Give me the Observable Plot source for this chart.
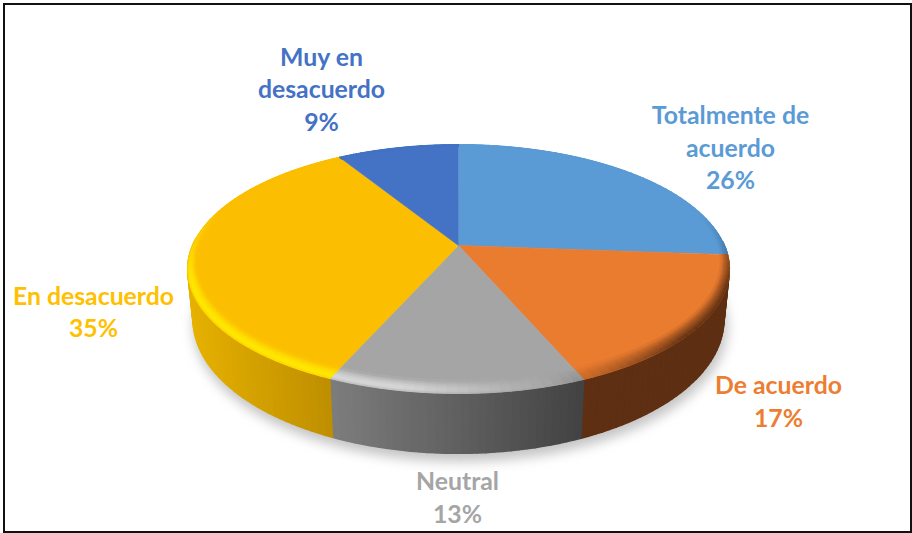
<!DOCTYPE html>
<html>
<head>
<meta charset="utf-8">
<script src="https://cdn.jsdelivr.net/npm/d3@7"></script>
<script src="https://cdn.jsdelivr.net/npm/@observablehq/plot@0.6"></script>
<style>
html,body{margin:0;padding:0;background:#fff}
#wrap{position:relative;width:912px;height:533px;overflow:hidden}
#wrap svg{position:absolute;left:0;top:0;background:transparent}
#frame{position:absolute;left:3px;top:3px;width:905px;height:526px;border:2px solid #111}
</style>
</head>
<body>
<div id="wrap"><div id="frame"></div></div>
<script>
// Data
const categories = ["Totalmente de\nacuerdo", "De acuerdo", "Neutral", "En desacuerdo", "Muy en\ndesacuerdo"];
const shares = [26.2, 17.45, 12.9, 34.75, 8.7];
const faceColors = ["#5B9BD5", "#EA7C30", "#A5A5A5", "#FBBE00", "#4472C4"];
const labelColors = ["#5B9BD5", "#ED7D31", "#A5A5A5", "#FFC000", "#4472C4"];
const rimLight = ["#DCEBF8", "#FFC890", "#D6D6D6", "#FFE800", "#A8C0EC"];
const sideLeft = ["#2F5F8E", "#5E2F12", "#7E7E7E", "#E6B100", "#27477F"];
const sideRight = ["#2F5F8E", "#5E2F12", "#434343", "#BC8D00", "#27477F"];
const labelX = [730, 778, 457, 93, 321];
const labelY = [146, 399.5, 495.5, 310, 87.5];

// Perspective of the pie
const cx = 458, cy = 245, ax = 266, by = 120, k = 0.189, depth = 48.6;
const project = (deg, r = 1, drop = 0) => {
  const t = deg * Math.PI / 180, u = r * Math.sin(t), v = r * Math.cos(t), w = 1 + k * v;
  const shrink = 1 - 0.02 * drop;
  return {x: cx + ax * shrink * u / w, y: cy - by * v / w + drop * depth / w};
};

// Cumulative slice limits in degrees
const total = d3.sum(shares);
let run = 0;
const slices = shares.map((s, i) => {
  const a0 = run / total * 360; run += s;
  return {i, a0, a1: run / total * 360};
});
const arc = (a0, a1, step, fn) => {
  const out = [];
  const n = Math.max(1, Math.ceil((a1 - a0) / step));
  for (let j = 0; j <= n; j++) out.push(fn(a0 + (a1 - a0) * j / n));
  return out;
};

const polys = {shadow: [], side: [], face: [], rim: []};
const push = (list, id, color, pts) => pts.forEach(p => list.push({id, color, x: p.x, y: p.y}));

// Soft shadow under the pie
push(polys.shadow, "s", "#c4c4c4", arc(0, 360, 3, a => {
  const p = project(a, 1.005, 1); return {x: p.x + 2, y: p.y + 7};
}));

// Side wall, back to front
slices.forEach(s => {
  const lo = project(s.a0).x, hi = project(s.a1).x;
  const mix = d3.interpolateRgb(sideLeft[s.i], sideRight[s.i]);
  const xs = arc(s.a0, s.a1, 1.5, a => a);
  for (let j = 0; j < xs.length - 1; j++) {
    const a = xs[j], b = xs[j + 1];
    if (Math.cos(a * Math.PI / 180) > 0.05) continue;
    const x0 = Math.min(lo, hi), x1 = Math.max(lo, hi);
    const span = s.i === 3 ? [cx - 270, x1] : [x0, x1];
    const col = mix((project(a).x - span[0]) / (span[1] - span[0] || 1));
    push(polys.side, `w${s.i}-${j}`, col, [project(a), project(b), project(b, 1, 1), project(a, 1, 1), project(a)]);
  }
});

// Flat top of every slice
slices.forEach(s => {
  push(polys.face, `f${s.i}`, faceColors[s.i], [{x: cx, y: cy}, ...arc(s.a0, s.a1, 1, a => project(a))]);
});

// Bevel at the edge of the top: lit from the left, dark to the right
const bevelSteps = 7;
const radiusAt = (a, b) => 1 - b * (0.025 + 0.05 * Math.max(0, -Math.cos(a * Math.PI / 180)));
slices.forEach(s => {
  const as = arc(s.a0, s.a1, 2, a => a);
  for (let j = 0; j < as.length - 1; j++) {
    const a = as[j], c = as[j + 1], u = Math.sin(a * Math.PI / 180), v = Math.cos(a * Math.PI / 180);
    const front = Math.min(1, Math.max(0, (0.3 - v) / 0.6));
    const light = 0.3 - u;
    for (let b = 0; b < bevelSteps; b++) {
      const m = (b + 0.5) / bevelSteps;
      const profile = Math.sin(Math.PI * Math.pow(m, 0.55));
      let col;
      if (light > 0) col = d3.interpolateRgb(faceColors[s.i], rimLight[s.i])(Math.min(1, light * 2.2) * profile * front);
      else col = d3.interpolateRgb(faceColors[s.i], sideRight[s.i])(Math.min(1, -light * 2.2) * Math.pow(1 - m, 0.8) * front);
      const r0 = radiusAt(a, b / bevelSteps), r1 = radiusAt(a, (b + 1) / bevelSteps);
      const r2 = radiusAt(c, b / bevelSteps), r3 = radiusAt(c, (b + 1) / bevelSteps);
      push(polys.rim, `r${s.i}-${j}-${b}`, col, [project(a, r0), project(c, r2), project(c, r3), project(a, r1), project(a, r0)]);
    }
  }
});

const labels = categories.map((c, i) => ({
  text: `${c}\n${Math.round(shares[i])}%`, x: labelX[i], y: labelY[i], color: labelColors[i]
}));

const polyMark = (data, extra = {}) => Plot.line(data, {
  x: "x", y: "y", z: "id", fill: "color", stroke: "color", strokeWidth: 0.6, curve: "linear", ...extra
});

const chart = Plot.plot({
  width: 912, height: 533,
  margin: 0,
  x: {domain: [0, 912], range: [0, 912], axis: null},
  y: {domain: [0, 533], range: [0, 533], axis: null},
  color: {type: "identity"},
  style: {background: "transparent"},
  marks: [
    polyMark(polys.shadow, {imageFilter: "blur(6px)"}),
    polyMark(polys.side, {strokeWidth: 1.4}),
    polyMark(polys.face),
    polyMark(polys.rim, {strokeWidth: 0.8}),
    Plot.text(labels, {
      x: "x", y: "y", text: "text", fill: "color",
      fontFamily: "Lato", fontWeight: 700, fontSize: 24.8, lineHeight: 1.31,
      textAnchor: "middle", lineAnchor: "middle"
    })
  ]
});
document.getElementById("wrap").appendChild(chart);
</script>
</body>
</html>
